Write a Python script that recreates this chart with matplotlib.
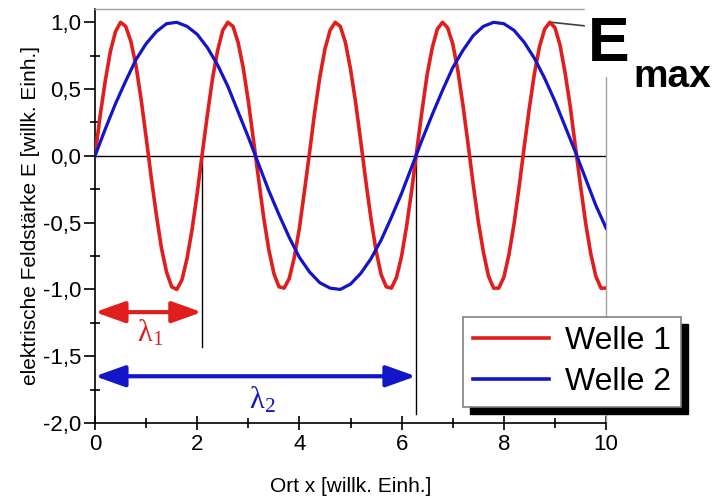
import numpy as np
import matplotlib
matplotlib.use("Agg")
import matplotlib.pyplot as plt
from matplotlib.patches import Rectangle
from matplotlib.ticker import MultipleLocator, FuncFormatter

# Welle 1 (lambda ~ 2.09), read at x = 0.0, 0.1, ..., 10.0
ort_x1 = np.round(np.arange(0, 101) * 0.1, 1)
welle_1 = [
    0.00, 0.30, 0.56, 0.78, 0.93, 1.00, 0.97, 0.86, 0.68, 0.43,
    0.14, -0.16, -0.44, -0.69, -0.87, -0.98, -1.00, -0.93, -0.77, -0.55,
    -0.28, 0.02, 0.31, 0.58, 0.79, 0.94, 1.00, 0.97, 0.85, 0.66,
    0.41, 0.12, -0.17, -0.46, -0.70, -0.88, -0.98, -0.99, -0.92, -0.76,
    -0.54, -0.26, 0.03, 0.33, 0.59, 0.80, 0.94, 1.00, 0.97, 0.85,
    0.65, 0.40, 0.11, -0.19, -0.47, -0.71, -0.89, -0.98, -0.99, -0.91,
    -0.75, -0.52, -0.25, 0.05, 0.34, 0.61, 0.81, 0.95, 1.00, 0.96,
    0.84, 0.64, 0.38, 0.09, -0.21, -0.49, -0.72, -0.90, -0.99, -0.99,
    -0.91, -0.74, -0.51, -0.23, 0.07, 0.36, 0.62, 0.82, 0.95, 1.00,
    0.96, 0.83, 0.62, 0.37, 0.07, -0.22, -0.50, -0.73, -0.90, -0.99,
    -0.99,
]

# Welle 2 (lambda ~ 6.28), read at x = 0.0, 0.2, ..., 10.0
ort_x2 = np.round(np.arange(0, 51) * 0.2, 1)
welle_2 = [
    0.00, 0.20, 0.39, 0.56, 0.72, 0.84, 0.93, 0.99, 1.00, 0.97,
    0.91, 0.81, 0.68, 0.52, 0.33, 0.14, -0.06, -0.26, -0.44, -0.61,
    -0.76, -0.87, -0.95, -0.99, -1.00, -0.96, -0.88, -0.77, -0.63, -0.46,
    -0.28, -0.08, 0.12, 0.31, 0.49, 0.66, 0.79, 0.90, 0.97, 1.00,
    0.99, 0.94, 0.85, 0.73, 0.58, 0.41, 0.22, 0.03, -0.17, -0.37,
    -0.54,
]

labels = ["Welle 1", "Welle 2"]
lambdas = [2.09, 6.28]          # wavelength markers
marker_bottom = [-1.43, -1.93]  # lower end of vertical marker lines
arrow_y = [-1.17, -1.65]
lambda_text_pos = [(1.08, -1.33), (3.27, -1.83)]
emax_point = (8.94, 1.0)

RED = "#e01e1e"
BLUE = "#1414c8"

plt.rcParams["font.family"] = ["Liberation Sans", "DejaVu Sans"]

fig = plt.figure(figsize=(7.16, 4.98), dpi=100)
ax = fig.add_axes([0.1327, 0.1506, 0.7137, 0.8314])

ax.plot(ort_x1, welle_1, color=RED, lw=2.6, label=labels[0], zorder=3)
ax.plot(ort_x2, welle_2, color=BLUE, lw=2.3, label=labels[1], zorder=3)
ax.axhline(0, color="black", lw=1.0, zorder=2)

# wavelength markers and arrows
for lam, yb, ya, col, (tx, ty), i in zip(lambdas, marker_bottom, arrow_y,
                                          [RED, BLUE], lambda_text_pos, [1, 2]):
    ax.plot([lam, lam], [0, yb], color="black", lw=1.0, zorder=2)
    ax.annotate("", xy=(lam, ya), xytext=(0, ya),
                arrowprops=dict(arrowstyle="<|-|>,head_length=0.7,head_width=0.25",
                                color=col, lw=3, mutation_scale=26,
                                shrinkA=0, shrinkB=0),
                zorder=4)
    ax.text(tx, ty, r"$\mathregular{λ_{%d}}$" % i, color=col, fontsize=22,
            family="Liberation Serif", ha="center", va="center")

ax.set_xlim(0, 10)
ax.set_ylim(-2.0, 1.1)
ax.xaxis.set_major_locator(MultipleLocator(2))
ax.xaxis.set_minor_locator(MultipleLocator(1))
ax.yaxis.set_major_locator(MultipleLocator(0.5))
ax.yaxis.set_minor_locator(MultipleLocator(0.25))
ax.yaxis.set_major_formatter(FuncFormatter(lambda v, p: f"{v:.1f}".replace(".", ",")))
ax.tick_params(axis="x", which="major", direction="inout", length=10, width=1.2,
               labelsize=16, pad=3)
ax.tick_params(axis="x", which="minor", direction="inout", length=7, width=1.2)
ax.tick_params(axis="y", which="major", direction="out", length=8, width=1.2,
               labelsize=16, pad=2)
ax.tick_params(axis="y", which="minor", direction="inout", length=7, width=1.2)

for s in ["left", "bottom"]:
    ax.spines[s].set_linewidth(1.2)
for s in ["top", "right"]:
    ax.spines[s].set_color("#a0a0a0")
    ax.spines[s].set_linewidth(1.0)

ax.set_xlabel("Ort x [willk. Einh.]", fontsize=15, labelpad=16)
ax.set_ylabel("elektrische Feldstärke E [willk. Einh.]", fontsize=15, labelpad=2)

leg = ax.legend(loc="lower left", bbox_to_anchor=(0.72, 0.039), fontsize=23,
                frameon=True, fancybox=False, framealpha=1, edgecolor="#808080",
                handlelength=2.4, handletextpad=0.5, labelspacing=0.35,
                borderpad=0.3, borderaxespad=0)
leg.get_frame().set_linewidth(1.2)
for line in leg.get_lines():
    line.set_linewidth(2.6)
leg.set_zorder(6)

# white area behind the E_max label, hiding the frame corner
fig.patches.append(Rectangle((585 / 716, (498 - 76) / 498), 1, 1,
                             transform=fig.transFigure, color="white", zorder=1))
fig.text(588 / 716, (498 - 61) / 498, "E", fontsize=45, fontweight="bold",
         ha="left", va="baseline", zorder=2)
fig.text(633 / 716, (498 - 87) / 498, "max", fontsize=28, fontweight="bold",
         ha="left", va="baseline", zorder=2)
ax.annotate("", xy=emax_point, xytext=(586 / 716, (498 - 26) / 498),
            textcoords="figure fraction", annotation_clip=False,
            arrowprops=dict(arrowstyle="-", color="#404040", lw=1.2,
                            shrinkA=0, shrinkB=0), zorder=7)

# black shadow behind legend
fig.canvas.draw()
bb = leg.get_window_extent()
shadow = Rectangle((bb.x0 + 7, bb.y0 - 7), bb.width, bb.height,
                   transform=None, color="black", zorder=5)
ax.add_artist(shadow)
shadow.set_clip_on(False)

fig.savefig("out.png", dpi=100)
